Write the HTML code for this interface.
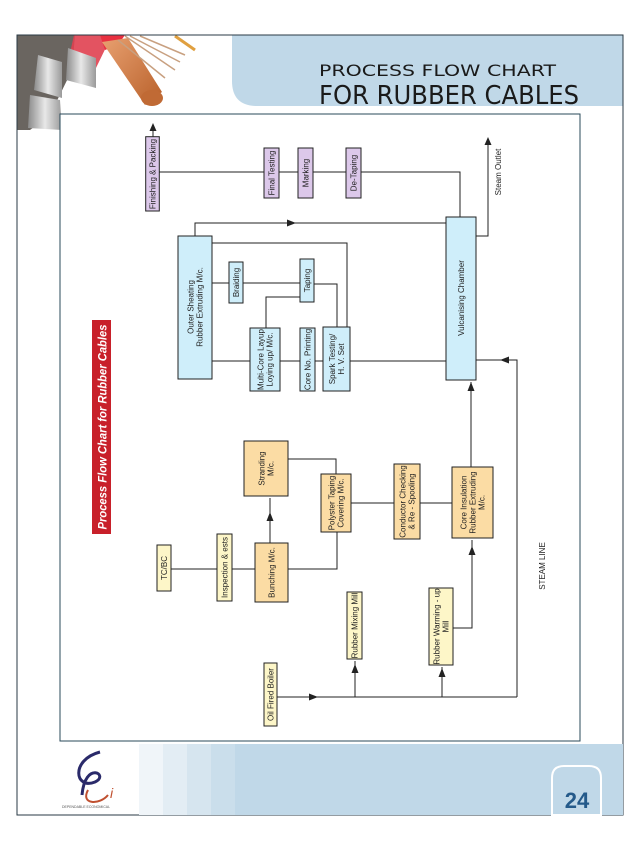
<!DOCTYPE html>
<html><head><meta charset="utf-8"><style>html,body{margin:0;padding:0;background:#fff}svg{display:block}</style></head>
<body>
<svg width="638" height="851" viewBox="0 0 638 851" xmlns="http://www.w3.org/2000/svg" font-family="Liberation Sans, sans-serif">
<defs>
<linearGradient id="cu" x1="0" y1="0" x2="1" y2="1"><stop offset="0" stop-color="#e8a070"/><stop offset="1" stop-color="#b8602a"/></linearGradient>
<linearGradient id="al" x1="0" y1="0" x2="1" y2="0"><stop offset="0" stop-color="#8a8a8a"/><stop offset=".5" stop-color="#e8e8e8"/><stop offset="1" stop-color="#9a9a9a"/></linearGradient>
</defs>
<!-- header photo -->
<g>
<polygon points="17,35 75,35 72,70 50,115 30,130 17,130" fill="#6a6560"/>
<polygon points="74,35 112,35 95,70 68,62" fill="#e04050" opacity=".9"/>
<polygon points="100,35 125,35 118,45 105,50" fill="#e83040"/>
<polygon points="102,42 128,38 162,92 145,105" fill="url(#cu)"/>
<ellipse cx="152" cy="98" rx="11" ry="8" fill="#c06a35"/>
<polygon points="38,55 62,62 62,98 34,90" fill="url(#al)"/>
<polygon points="68,48 96,58 96,88 66,80" fill="url(#al)"/>
<polygon points="30,95 60,100 62,130 28,128" fill="url(#al)"/>
<path d="M125,36 L175,70 M130,36 L180,62 M140,36 L185,55 M118,40 L165,78" stroke="#c8a080" stroke-width="1.5"/>
<path d="M175,36 L195,50" stroke="#e0a040" stroke-width="3"/>
</g>
<!-- header blue -->
<path d="M232,35 H623 V106 H257 Q232,106 232,81 Z" fill="#c0d8e8"/>
<text x="319" y="76" font-family="DejaVu Sans, sans-serif" font-size="16" fill="#1a1a1a" textLength="237" lengthAdjust="spacingAndGlyphs">PROCESS FLOW CHART</text>
<text x="319" y="104" font-family="DejaVu Sans, sans-serif" font-size="26" fill="#1a1a1a" textLength="260" lengthAdjust="spacingAndGlyphs">FOR RUBBER CABLES</text>
<!-- outer frame -->
<rect x="17" y="35" width="606" height="780" fill="none" stroke="#2a3a44" stroke-width="1"/>
<!-- footer -->
<rect x="139" y="744" width="484" height="71" fill="#c0d8e8"/>
<rect x="139" y="744" width="24" height="71" fill="#f0f5f9"/>
<rect x="163" y="744" width="24" height="71" fill="#e3edf4"/>
<rect x="187" y="744" width="24" height="71" fill="#d6e5ef"/>
<rect x="211" y="744" width="24" height="71" fill="#cadeeb"/>
<path d="M552,815 V778 Q552,766 564,766 H589 Q601,766 601,778 V815 Z" fill="#c0d8e8" stroke="#fff" stroke-width="2"/>
<text x="577" y="808" text-anchor="middle" font-size="22" font-weight="bold" fill="#245a8a">24</text>
<path d="M100,752 C70,760 75,790 95,782 C110,775 85,760 82,795" stroke="#2a2a6a" stroke-width="3" fill="none"/>
<path d="M88,790 C80,805 100,805 108,795" stroke="#c05030" stroke-width="2" fill="none"/>
<text x="110" y="798" font-size="14" font-style="italic" fill="#c05030">i</text>
<text x="62" y="808" font-size="3.5" fill="#555">DEPENDABLE ECONOMICAL</text>
<!-- inner frame -->
<rect x="60" y="114" width="520" height="627" fill="#fff" stroke="#2a4a5a" stroke-width="1"/>

<!-- red title -->
<rect x="92" y="320" width="19" height="214" fill="#c8202a"/>
<text transform="translate(102,427) rotate(-90)" text-anchor="middle" dy="4.5" font-size="12" font-weight="bold" font-style="italic" fill="#fff" textLength="205" lengthAdjust="spacingAndGlyphs">Process Flow Chart for Rubber Cables</text>

<!-- connectors -->
<g stroke="#222" stroke-width="1" fill="none">
<path d="M153,137 V126"/>
<path d="M159,172 H460 V217"/>
<path d="M476,236 H488 V140"/>
<path d="M195,236 V223 H446"/>
<path d="M212,243 H347 V327"/>
<path d="M212,283 H300"/>
<path d="M300,297 H266 V328"/>
<path d="M314,284 H337 V327"/>
<path d="M212,361 H446"/>
<path d="M476,360 H517 V697"/>
<path d="M471,467 V382"/>
<path d="M270,543 V498"/>
<path d="M288,459 H336 V474"/>
<path d="M288,569 H337 V532"/>
<path d="M171,569 H255"/>
<path d="M351,503 H452"/>
<path d="M453,628 H472 V540"/>
<path d="M277,697 H517"/>
<path d="M355,697 V661"/>
<path d="M442,697 V667"/>
</g>
<g fill="#222">
<polygon points="153,123 149.5,131 156.5,131"/>
<polygon points="488,137 484.5,145 491.5,145"/>
<polygon points="296,223 287,219.5 287,226.5"/>
<polygon points="500,360 509,356.5 509,363.5"/>
<polygon points="471,382 467.5,391 474.5,391"/>
<polygon points="270,512 266.5,521 273.5,521"/>
<polygon points="472,546 468.5,555 475.5,555"/>
<polygon points="318,697 309,693.5 309,700.5"/>
<polygon points="355,664 351.5,673 358.5,673"/>
<polygon points="442,668 438.5,677 445.5,677"/>
</g>

<!-- boxes -->
<g stroke="#222" stroke-width="1">
<rect x="145.7" y="136.7" width="13.6" height="74.3" fill="#dcc8ea"/>
<rect x="264" y="148" width="15" height="50" fill="#dcc8ea"/>
<rect x="298" y="148" width="15" height="50" fill="#dcc8ea"/>
<rect x="346" y="148" width="15" height="50" fill="#dcc8ea"/>
<rect x="446" y="217" width="30" height="163" fill="#cfeefa"/>
<rect x="178" y="236" width="34" height="143" fill="#cfeefa"/>
<rect x="229" y="262" width="14" height="41" fill="#cfeefa"/>
<rect x="300" y="259" width="14" height="43" fill="#cfeefa"/>
<rect x="250" y="328" width="30" height="63" fill="#cfeefa"/>
<rect x="300" y="328" width="15" height="63" fill="#cfeefa"/>
<rect x="323" y="327" width="27" height="64" fill="#cfeefa"/>
<rect x="244" y="441" width="44" height="55" fill="#fbdca4"/>
<rect x="255" y="543" width="33" height="59" fill="#fbdca4"/>
<rect x="321" y="474" width="30" height="58" fill="#fbdca4"/>
<rect x="394" y="464" width="26" height="75" fill="#fbdca4"/>
<rect x="452" y="467" width="41" height="71" fill="#fbdca4"/>
<rect x="157" y="545" width="14" height="46" fill="#fdf6c8"/>
<rect x="217" y="534" width="15" height="67" fill="#fdf6c8"/>
<rect x="347" y="592" width="15" height="67" fill="#fdf6c8"/>
<rect x="429" y="588" width="24" height="77" fill="#fdf6c8"/>
<rect x="264" y="663" width="13" height="63" fill="#fdf6c8"/>
</g>

<!-- labels -->
<g font-size="8" fill="#222" text-anchor="middle">
<text transform="translate(152.5,174) rotate(-90)" dy="3">Finishing &amp; Packing</text>
<text transform="translate(271.5,173) rotate(-90)" dy="3">Final Testing</text>
<text transform="translate(305.5,173) rotate(-90)" dy="3">Marking</text>
<text transform="translate(353.5,173) rotate(-90)" dy="3">De-Taping</text>
<text transform="translate(461,298) rotate(-90)" dy="3">Vulcanising Chamber</text>
<text transform="translate(195,307) rotate(-90)" dy="-1.5">Outer Sheating</text>
<text transform="translate(195,307) rotate(-90)" dy="7.5">Rubber Extruding M/c.</text>
<text transform="translate(236,282.5) rotate(-90)" dy="3">Braiding</text>
<text transform="translate(307,280.5) rotate(-90)" dy="3">Taping</text>
<text transform="translate(265,359.5) rotate(-90)" dy="-1.5">Multi-Core Layup</text>
<text transform="translate(265,359.5) rotate(-90)" dy="7.5">Loying up/ M/c.</text>
<text transform="translate(307.5,359.5) rotate(-90)" dy="3">Core No. Printing</text>
<text transform="translate(336.5,359) rotate(-90)" dy="-1.5">Spark Testing/</text>
<text transform="translate(336.5,359) rotate(-90)" dy="7.5">H. V. Set</text>
<text transform="translate(266,468.5) rotate(-90)" dy="-1.5">Stranding</text>
<text transform="translate(266,468.5) rotate(-90)" dy="7.5">M/c.</text>
<text transform="translate(271.5,572.5) rotate(-90)" dy="3">Bunching M/c.</text>
<text transform="translate(336,503) rotate(-90)" dy="-1.5">Polyster Taping</text>
<text transform="translate(336,503) rotate(-90)" dy="7.5">Covering M/c.</text>
<text transform="translate(407,501.5) rotate(-90)" dy="-1.5">Conductor Checking</text>
<text transform="translate(407,501.5) rotate(-90)" dy="7.5">&amp; Re - Spooling</text>
<text transform="translate(472.5,502.5) rotate(-90)" dy="-6">Core Insulation</text>
<text transform="translate(472.5,502.5) rotate(-90)" dy="3">Rubber Extruding</text>
<text transform="translate(472.5,502.5) rotate(-90)" dy="12">M/c.</text>
<text transform="translate(164,568) rotate(-90)" dy="3">TC/BC</text>
<text transform="translate(224.5,567.5) rotate(-90)" dy="3">Inspection &amp; ests</text>
<text transform="translate(354.5,625.5) rotate(-90)" dy="3">Rubber Mixing Mill</text>
<text transform="translate(441,626.5) rotate(-90)" dy="-1.5">Rubber Warming - up</text>
<text transform="translate(441,626.5) rotate(-90)" dy="7.5">Mill</text>
<text transform="translate(270.5,694.5) rotate(-90)" dy="3">Oil Fired Boiler</text>
<text transform="translate(498,172) rotate(-90)" dy="3">Steam Outlet</text>
<text transform="translate(542,566) rotate(-90)" dy="3">STEAM LINE</text>
</g>
</svg>
</body></html>
